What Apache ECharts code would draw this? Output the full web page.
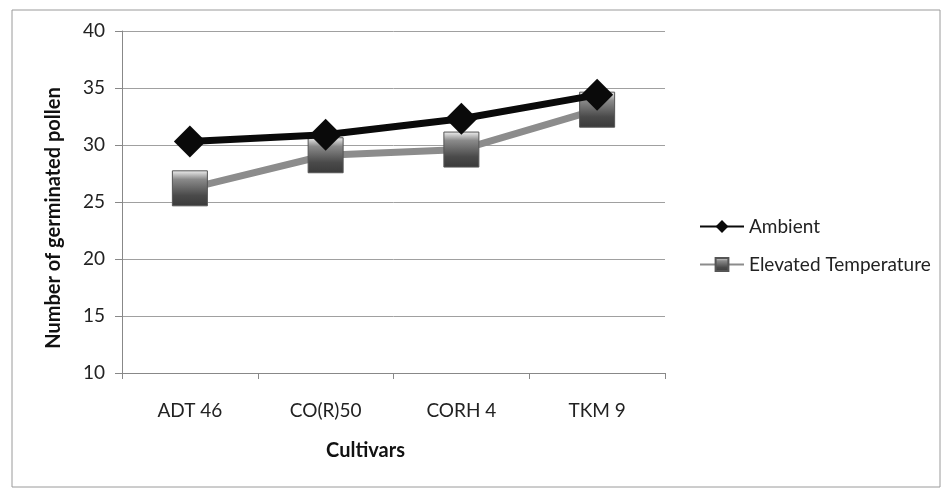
<!DOCTYPE html>
<html>
<head>
<meta charset="utf-8">
<script src="https://cdn.jsdelivr.net/npm/echarts@6/dist/echarts.min.js"></script>
<style>html,body{margin:0;padding:0;background:#fff;}#c{width:947px;height:494px;}</style>
</head>
<body>
<div id="c"></div>
<script>
const categories = ['ADT 46', 'CO(R)50', 'CORH 4', 'TKM 9'];
const ambient = [30.3, 30.9, 32.3, 34.4];
const elevated = [26.2, 29.1, 29.6, 33.1];
const seriesNames = ['Ambient', 'Elevated Temperature'];

const chart = echarts.init(document.getElementById('c'));
const squareFill = new echarts.graphic.LinearGradient(0, 0, 0, 1, [
  {offset: 0, color: '#f2f2f2'},
  {offset: 0.25, color: '#8a8a8a'},
  {offset: 0.7, color: '#4a4a4a'},
  {offset: 1, color: '#3a3a3a'}
]);
chart.setOption({
  backgroundColor: '#fff',
  animation: false,
  textStyle: {fontFamily: 'Lato'},
  graphic: [{
    type: 'rect',
    shape: {x: 12, y: 10, width: 928, height: 477},
    style: {fill: 'none', stroke: '#9a9a9a', lineWidth: 1}
  }],
  grid: {left: 122, right: 282, top: 31, bottom: 121},
  legend: {
    orient: 'vertical',
    left: 694,
    top: 212,
    itemGap: 19,
    itemWidth: 44,
    itemHeight: 16,
    textStyle: {fontSize: 19, color: '#222', fontFamily: 'Lato'},
    data: seriesNames
  },
  xAxis: {
    type: 'category',
    data: categories,
    boundaryGap: true,
    name: 'Cultivars',
    nameLocation: 'middle',
    nameGap: 68,
    nameTextStyle: {fontSize: 20, fontWeight: 'bold', color: '#111', fontFamily: 'Lato', padding: [0, 56, 0, 0]},
    axisLine: {lineStyle: {color: '#888', width: 1}},
    axisTick: {show: true, length: 6, lineStyle: {color: '#888'}},
    axisLabel: {fontSize: 19, color: '#222', margin: 28, fontFamily: 'Lato'}
  },
  yAxis: {
    type: 'value',
    min: 10,
    max: 40,
    interval: 5,
    name: 'Number of germinated pollen',
    nameLocation: 'middle',
    nameGap: 58,
    nameTextStyle: {fontSize: 20, fontWeight: 'bold', color: '#111', fontFamily: 'Lato', padding: [0, 32, 0, 0]},
    axisLine: {show: true, lineStyle: {color: '#888', width: 1}},
    axisTick: {show: true, length: 7, lineStyle: {color: '#888'}},
    axisLabel: {fontSize: 19, color: '#222', margin: 17, fontFamily: 'Lato'},
    splitLine: {lineStyle: {color: '#a0a0a0', width: 1}}
  },
  series: [
    {
      name: seriesNames[1],
      type: 'line',
      data: elevated,
      symbol: 'rect',
      symbolSize: 35,
      z: 2,
      lineStyle: {color: '#8c8c8c', width: 7},
      itemStyle: {color: squareFill, borderColor: '#555', borderWidth: 1}
    },
    {
      name: seriesNames[0],
      type: 'line',
      data: ambient,
      symbol: 'diamond',
      symbolSize: 32,
      z: 3,
      lineStyle: {color: '#0a0a0a', width: 7},
      itemStyle: {color: '#0a0a0a'}
    }
  ]
});
</script>
</body>
</html>
